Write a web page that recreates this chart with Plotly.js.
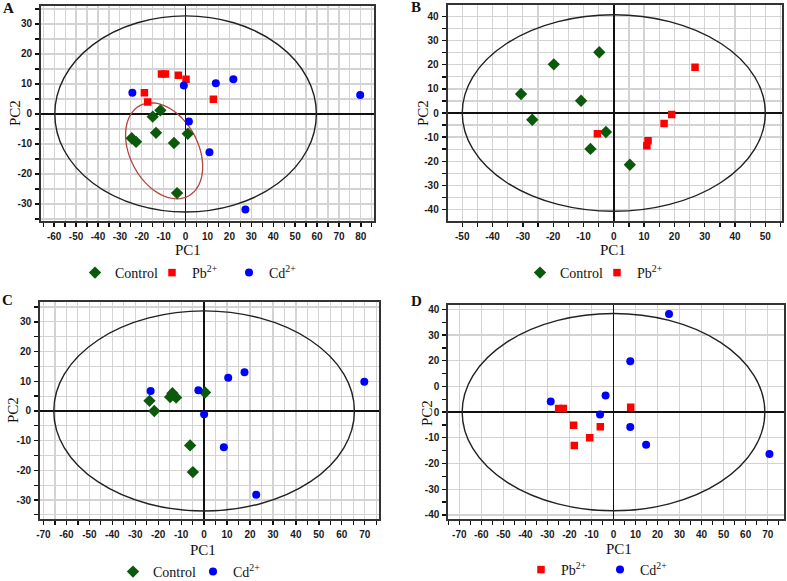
<!DOCTYPE html>
<html>
<head>
<meta charset="utf-8">
<script src="https://cdn.plot.ly/plotly-3.0.1.min.js"></script>
<style>html,body{margin:0;padding:0;background:#fff;overflow:hidden;}#chart{width:787px;height:581px;}</style>
</head>
<body>
<div id="chart"></div>
<script>
// ---- Data (PCA scores) ----
const aControlX = [-24.6, -22.6, -15.0, -11.5, -13.5, -5.3, 1.0, -3.9];
const aControlY = [-8.1, -9.3, -0.9, 1.2, -6.3, -9.7, -6.6, -26.4];
const aPbX = [-11.0, -9.2, -3.3, 0.2, -18.8, -17.3, 12.7];
const aPbY = [13.3, 13.3, 12.9, 11.6, 7.1, 4.0, 4.9];
const aCdX = [-24.3, -0.8, 13.8, 21.8, 79.7, 1.5, 10.9, 27.3];
const aCdY = [7.1, 9.5, 10.2, 11.6, 6.3, -2.5, -12.8, -31.9];

const bControlX = [-4.8, -19.8, -30.6, -10.8, -26.9, -2.6, -7.7, 5.3];
const bControlY = [25.2, 20.2, 7.9, 5.1, -2.8, -7.9, -14.9, -21.5];
const bPbX = [26.8, 19.1, 16.6, 11.3, 10.9, -5.4];
const bPbY = [19.0, -0.6, -4.4, -11.5, -13.6, -8.6];

const cControlX = [-23.8, -21.7, -13.8, -14.8, -12.2, 0.4, -6.1, -4.9];
const cControlY = [3.4, 0.0, 6.0, 4.7, 4.5, 6.2, -11.6, -20.6];
const cCdX = [-23.3, -2.5, 10.5, 17.6, 69.8, 0.0, 8.6, 22.7];
const cCdY = [6.7, 7.0, 11.2, 13.0, 9.8, -1.1, -12.2, -28.2];

const dPbX = [-24.9, -22.8, -18.1, -6.0, -10.8, -17.8, 7.8];
const dPbY = [1.4, 1.4, -5.1, -5.7, -10.0, -13.0, 1.9];
const dCdX = [-28.5, -3.6, -6.1, 7.6, 25.2, 7.6, 14.8, 70.8];
const dCdY = [4.1, 6.5, -0.9, 19.8, 38.2, -5.8, -12.7, -16.3];

// Hotelling ellipse semi-axes (PC1, PC2) per panel
const ellipseA = [59.7, 32.7];
const ellipseB = [50.0, 40.8];
const ellipseC = [65.5, 33.7];
const ellipseD = [68.7, 38.4];
// Control-group ellipse in panel A: centre and two conjugate half-axis vectors
const ctrlEllipseCenter = [-9.8, -12.3];
const ctrlEllipseU = [17.6, -5.3];
const ctrlEllipseV = [0, 15.1];

// Tick values and labels as printed
const aXTicks = [-60, -50, -40, -30, -20, -10, 0, 10, 20, 30, 40, 50, 60, 70, 80];
const aXLabels = ["-60", "-50", "-40", "-30", "-20", "-10", "0", "10", "20", "30", "40", "50", "60", "70", "80"];
const aYTicks = [-30, -20, -10, 0, 10, 20, 30];
const aYLabels = ["-30", "-20", "-10", "0", "10", "20", "30"];
const bXTicks = [-50, -40, -30, -20, -10, 0, 10, 20, 30, 40, 50];
const bXLabels = ["-50", "-40", "-30", "-20", "-10", "0", "10", "20", "30", "40", "50"];
const bYTicks = [-40, -30, -20, -10, 0, 10, 20, 30, 40];
const bYLabels = ["-40", "-30", "-20", "-10", "0", "10", "20", "30", "40"];
const cXTicks = [-70, -60, -50, -40, -30, -20, -10, 0, 10, 20, 30, 40, 50, 60, 70];
const cXLabels = ["-70", "-60", "-50", "-40", "-30", "-20", "-10", "0", "10", "20", "30", "40", "50", "60", "70"];
const cYTicks = [-30, -20, -10, 0, 10, 20, 30];
const cYLabels = ["-30", "-20", "-10", "0", "10", "20", "30"];
const dXTicks = [-70, -60, -50, -40, -30, -20, -10, 0, 10, 20, 30, 40, 50, 60, 70];
const dXLabels = ["-70", "-60", "-50", "-40", "-30", "-20", "-10", "0", "10", "20", "30", "40", "50", "60", "70"];
const dYTicks = [-40, -30, -20, -10, 0, 10, 20, 30, 40];
const dYLabels = ["-40", "-30", "-20", "-10", "0", "0", "20", "30", "40"];

const labelControl = "Control";
const labelPb = "Pb<sup>2+</sup>";
const labelCd = "Cd<sup>2+</sup>";

// ---- Styling / layout ----
const W = 787, H = 581;
const GREEN = "#0b5a0b", RED = "#ff0000", BLUE = "#0000ff";
const serif = "Liberation Serif, Times New Roman, serif";
const sans = "Liberation Sans, Arial, sans-serif";
const GRID = "#d3d3d3";

function dom(x0, x1, y0, y1) { // pixel box -> paper domains
  return {x: [x0 / W, x1 / W], y: [1 - y1 / H, 1 - y0 / H]};
}
const boxA = dom(41, 374, 6, 220.7);
const boxB = dom(447.7, 782, 5.3, 220.7);
const boxC = dom(40, 379, 302.3, 519.3);
const boxD = dom(448.3, 784, 304.7, 519.3);

function axis(domain, range, anchor, minorGrid, vals, labels) {
  return {
    domain: domain, range: range, anchor: anchor, autorange: false,
    tickmode: "array", tickvals: vals, ticktext: labels,
    ticks: "outside", ticklen: 4, tickwidth: 1.3, tickcolor: "#111",
    showgrid: true, gridcolor: GRID, gridwidth: 1.2,
    minor: {tickmode: "linear", tick0: 0, dtick: 5, ticks: "outside", ticklen: 4, tickwidth: 1.3, tickcolor: "#111",
            showgrid: minorGrid, gridcolor: GRID, gridwidth: 1.2},
    zeroline: true, zerolinecolor: "#111", zerolinewidth: 1.5,
    showline: true, linecolor: "#333", linewidth: 2, mirror: true,
    tickfont: {family: sans, size: 10, color: "#1a1a1a", weight: 700},
    ticklabelstandoff: 1
  };
}

function tr(x, y, name, sym, color, size, xa, ya, legend) {
  return {x: x, y: y, name: name, type: "scatter", mode: "markers",
    marker: {symbol: sym, color: color, size: size, line: {width: 0}},
    xaxis: xa, yaxis: ya, legend: legend, showlegend: true, hoverinfo: "x+y+name"};
}

const data = [
  tr(aControlX, aControlY, labelControl, "diamond", GREEN, 9.5, "x", "y", "legend"),
  tr(aPbX, aPbY, labelPb, "square", RED, 7.5, "x", "y", "legend"),
  tr(aCdX, aCdY, labelCd, "circle", BLUE, 8, "x", "y", "legend"),
  tr(bControlX, bControlY, labelControl, "diamond", GREEN, 9.5, "x2", "y2", "legend2"),
  tr(bPbX, bPbY, labelPb, "square", RED, 7.5, "x2", "y2", "legend2"),
  tr(cControlX, cControlY, labelControl, "diamond", GREEN, 9.5, "x3", "y3", "legend3"),
  tr(cCdX, cCdY, labelCd, "circle", BLUE, 8, "x3", "y3", "legend3"),
  tr(dPbX, dPbY, labelPb, "square", RED, 7.5, "x4", "y4", "legend4"),
  tr(dCdX, dCdY, labelCd, "circle", BLUE, 8, "x4", "y4", "legend4")
];

function ell(xr, yr, ab) {
  return {type: "circle", xref: xr, yref: yr, x0: -ab[0], x1: ab[0], y0: -ab[1], y1: ab[1],
          line: {color: "#222", width: 1.4}, layer: "between"};
}
function tiltedPath(c, u, v) {
  let p = "";
  for (let i = 0; i <= 72; i++) {
    const t = 2 * Math.PI * i / 72;
    const x = c[0] + u[0] * Math.cos(t) + v[0] * Math.sin(t);
    const y = c[1] + u[1] * Math.cos(t) + v[1] * Math.sin(t);
    p += (i === 0 ? "M" : "L") + x.toFixed(3) + "," + y.toFixed(3);
  }
  return p + "Z";
}

const shapes = [
  ell("x", "y", ellipseA), ell("x2", "y2", ellipseB), ell("x3", "y3", ellipseC), ell("x4", "y4", ellipseD),
  {type: "path", xref: "x", yref: "y", path: tiltedPath(ctrlEllipseCenter, ctrlEllipseU, ctrlEllipseV),
   line: {color: "#b5433f", width: 1.3}, layer: "between"}
];

function txt(x, y, t, size, rot, bold) {
  return {xref: "paper", yref: "paper", x: x / W, y: 1 - y / H, text: t, showarrow: false,
          xanchor: "center", yanchor: "middle", textangle: rot || 0,
          font: {family: serif, size: size, color: "#111", weight: bold ? "bold" : "normal"}};
}
const annotations = [
  txt(8, 8, "A", 15, 0, true), txt(416, 7, "B", 15, 0, true),
  txt(7, 300, "C", 15, 0, true), txt(416, 301, "D", 15, 0, true),
  txt(188, 250, "PC1", 15), txt(613, 250, "PC1", 15),
  txt(203, 550, "PC1", 15), txt(619, 549, "PC1", 15),
  txt(15, 113, "PC2", 15, -90), txt(423, 113, "PC2", 15, -90),
  txt(13, 410, "PC2", 15, -90), txt(427, 413, "PC2", 15, -90)
];

function leg(x, y, ew) {
  return {orientation: "h", x: x / W, y: 1 - y / H, xanchor: "left", yanchor: "middle",
          bgcolor: "rgba(0,0,0,0)", borderwidth: 0, entrywidth: ew, entrywidthmode: "pixels",
          font: {family: serif, size: 14, color: "#111"}, itemclick: false, itemdoubleclick: false};
}

const layout = {
  width: W, height: H, margin: {l: 0, r: 0, t: 0, b: 0, autoexpand: false},
  paper_bgcolor: "#fff", plot_bgcolor: "#fff",
  xaxis: axis(boxA.x, [-66, 86], "y", true, aXTicks, aXLabels),
  yaxis: axis(boxA.y, [-35.6, 36], "x", true, aYTicks, aYLabels),
  xaxis2: axis(boxB.x, [-54.8, 55.5], "y2", true, bXTicks, bXLabels),
  yaxis2: axis(boxB.y, [-44.7, 44.7], "x2", true, bYTicks, bYLabels),
  xaxis3: axis(boxC.x, [-71.5, 76.2], "y3", true, cXTicks, cXLabels),
  yaxis3: axis(boxC.y, [-36.5, 36.6], "x3", true, cYTicks, cYLabels),
  xaxis4: axis(boxD.x, [-75, 77.4], "y4", false, dXTicks, dXLabels),
  yaxis4: axis(boxD.y, [-41.7, 41.8], "x4", false, dYTicks, dYLabels),
  shapes: shapes, annotations: annotations,
  legend: leg(75, 273, 32), legend2: leg(520, 273, 32), legend3: leg(113, 572, 35), legend4: leg(521, 570, 34),
  showlegend: true
};

Plotly.newPlot("chart", data, layout, {staticPlot: true, displayModeBar: false});
</script>
</body>
</html>
